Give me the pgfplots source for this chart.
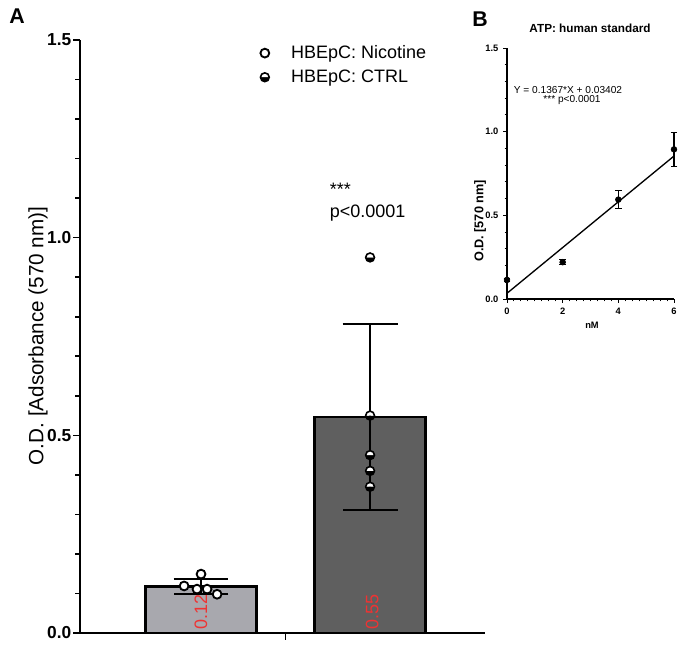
\documentclass[border=0pt]{standalone}
\usepackage{pgfplots}
\pgfplotsset{compat=1.18}
\usepackage{fontspec}
\setmainfont{Liberation Sans}
\definecolor{barlight}{HTML}{A8A8AE}
\definecolor{bardark}{HTML}{5F5F5F}
\definecolor{labred}{HTML}{EE3333}
\newcommand{\fs}[2]{\fontsize{#1}{#2}\selectfont}
\pgfplotsset{
  marklegend/.style={legend image code/.code={\draw[##1] plot coordinates {(0cm,0cm)}; \path (0cm,0cm) (0.6cm,0cm);}},
}

\begin{document}
\begin{tikzpicture}[x=0.75pt,y=0.75pt]
\path[use as bounding box] (0,0) rectangle (682,652);

% panel A
\begin{axis}[
  at={(60pt,14.25pt)}, anchor=south west,
  scale only axis, width=303.75pt, height=444.75pt,
  xmin=-0.716, xmax=1.68, ymin=0, ymax=1.5,
  axis x line*=bottom, axis y line*=left,
  axis line style={line width=1.6pt},
  xtick={0.5}, xticklabels={},
  ytick={0,0.5,1,1.5}, yticklabels={0.0,0.5,1.0,1.5},
  minor y tick num=4,
  tick align=outside, major tick length=5pt, minor tick length=3.5pt,
  every tick/.style={black, line width=1.2pt},
  yticklabel style={font=\fs{13}{15}\bfseries, xshift=2pt},
  clip=false,
  legend cell align=left,
  legend style={draw=none, fill=none, at={(0.435,1.0)}, anchor=north west,
    font=\fs{13.5}{16}, row sep=3pt},
]
\addplot[ybar, bar width=0.657, bar shift=0pt, fill=barlight, draw=black, line width=2pt, forget plot,
  error bars/.cd, y dir=both, y explicit,
  error bar style={line width=1.5pt, black},
  error mark options={rotate=90, mark size=20.6pt, line width=1.5pt, black}]
  coordinates {(0,0.117) +- (0,0.019)};
\addplot[ybar, bar width=0.657, bar shift=0pt, fill=bardark, draw=black, line width=2pt, forget plot,
  error bars/.cd, y dir=both, y explicit,
  error bar style={line width=1.5pt, black},
  error mark options={rotate=90, mark size=20.6pt, line width=1.5pt, black}]
  coordinates {(1,0.546) +- (0,0.236)};

\addplot[only marks, marklegend, mark=*, mark size=3.3pt, black, line width=1.4pt, mark options={fill=white}]
  coordinates {(-0.10,0.119) (-0.024,0.111) (0,0.149) (0.036,0.111) (0.095,0.098)};
\addlegendentry{HBEpC: Nicotine}
\addplot[only marks, marklegend, mark=halfcircle*, mark size=3.3pt, black, line width=1.2pt, mark options={fill=black, rotate=180}]
  coordinates {(1,0.95) (1,0.55) (1,0.45) (1,0.41) (1,0.37)};
\addlegendentry{HBEpC: CTRL}

\node[anchor=base west, font=\fs{13.5}{16}] at (axis cs:0.734,1.106) {***};
\node[anchor=base west, font=\fs{13.5}{16}] at (axis cs:0.734,1.05) {p<0.0001};
\node[rotate=90, anchor=west, text=labred, font=\fs{13.5}{16}, inner sep=0pt] at (axis cs:0,0.008) {0.12};
\node[rotate=90, anchor=west, text=labred, font=\fs{13.5}{16}, inner sep=0pt] at (axis cs:1.012,0.008) {0.55};
\end{axis}

% panel B
\begin{axis}[
  at={(380.25pt,264.75pt)}, anchor=south west,
  scale only axis, width=125.25pt, height=188.25pt,
  xmin=0, xmax=6, ymin=0, ymax=1.5,
  axis x line*=bottom, axis y line*=left,
  axis line style={line width=0.9pt},
  xtick={0,2,4,6}, xticklabels={0,2,4,6},
  ytick={0,0.5,1,1.5}, yticklabels={0.0,0.5,1.0,1.5},
  minor x tick num=7, minor y tick num=4,
  tick align=outside, major tick length=3pt, minor tick length=1.8pt,
  every tick/.style={black, line width=0.7pt},
  ticklabel style={font=\fs{7}{8}\bfseries},
  /pgf/number format/assume math mode=true,
  clip=false,
]
\addplot[black, line width=1pt] coordinates {(0,0.03402) (6,0.85422)};
\addplot[only marks, mark=*, mark size=2.2pt, black,
  error bars/.cd, y dir=both, y explicit,
  error bar style={line width=0.8pt},
  error mark options={rotate=90, mark size=2.5pt, line width=0.8pt}]
  coordinates {(0,0.114) +- (0,0.01) (2,0.22) +- (0,0.015) (4,0.594) +- (0,0.055) (6,0.894) +- (0,0.1)};
\end{axis}

% free text
\node[font=\fs{16}{18}\bfseries] at (17,652-16) {A};
\node[font=\fs{16}{18}\bfseries] at (480,652-19) {B};
\node[rotate=90, font=\fs{15.5}{18}] at (38,652-336) {O.D. [Adsorbance (570 nm)]};
\node[font=\fs{8.8}{10}\bfseries] at (590,652-28) {ATP: human standard};
\node[font=\fs{7.6}{9}] at (568,652-90) {Y = 0.1367*X + 0.03402};
\node[font=\fs{7.6}{9}] at (572,652-100) {*** p<0.0001};
\node[rotate=90, font=\fs{9.5}{11}\bfseries] at (480,652-221) {O.D. [570 nm]};
\node[font=\fs{7}{9}\bfseries] at (592,652-325) {nM};
\end{tikzpicture}
\end{document}
